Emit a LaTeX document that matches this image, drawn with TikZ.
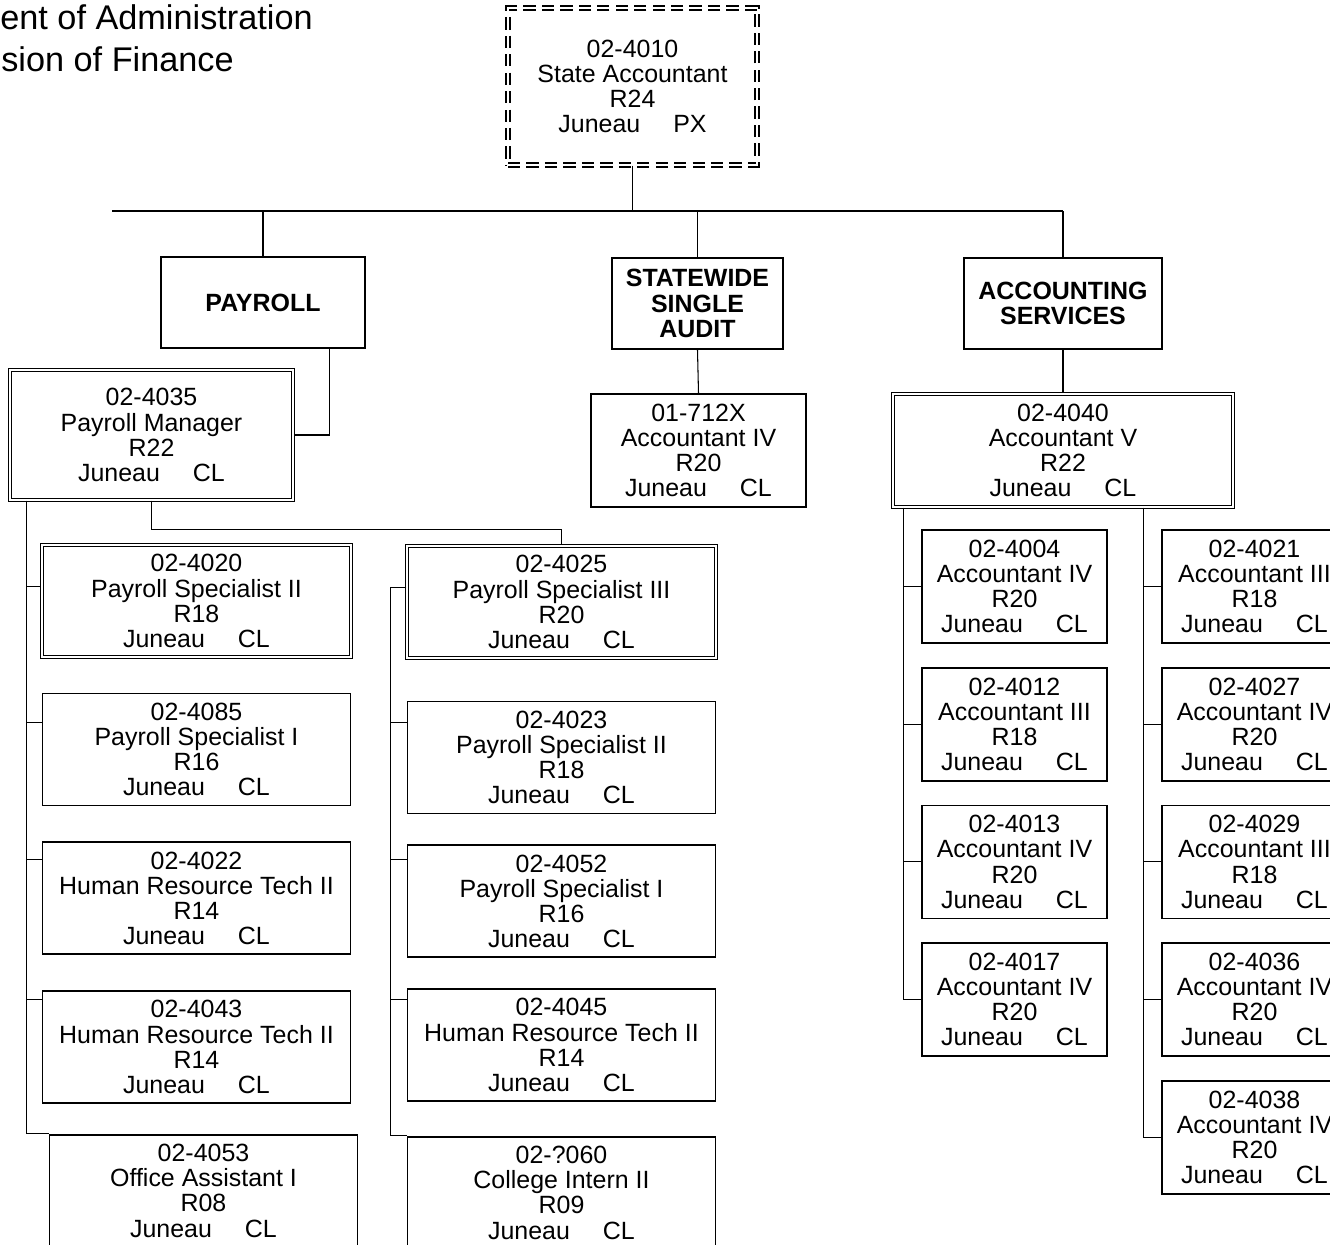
\documentclass[tikz,border=0pt]{standalone}
\usepackage{fontspec}
\setmainfont{Liberation Sans}
\usetikzlibrary{positioning, calc}

\newcommand{\posfont}{\fontsize{14.2}{14.3}\selectfont}
\newcommand{\site}[1]{Juneau\hspace{0.66cm}#1}

\tikzset{
  post/.style={draw, line width=1pt, align=center, inner sep=0pt, font=\posfont,
    minimum width=6.16cm, minimum height=2.24cm},
  lead/.style={post, double, line width=0.8pt, double distance=1.2pt},
  chiefbox/.style={post, double, line width=0.8pt, double distance=1.6pt,
    dash pattern=on 7pt off 3.5pt, minimum width=4.98cm, minimum height=3.14cm},
  acct/.style={post, minimum width=3.7cm, minimum height=2.26cm},
  unit/.style={draw, line width=1pt, align=center, inner sep=0pt,
    font=\bfseries\posfont, minimum height=1.82cm},
  link/.style={line width=0.6pt},
}

\begin{document}
\begin{tikzpicture}[x=0.02cm, y=-0.02cm]
        \useasboundingbox (0,0) rectangle (1330,1245);
        \clip (0,0) rectangle (1330,1245);
        % titulo (cortado a la izquierda)
        \node[anchor=base west, inner sep=0pt, font=\fontsize{19.5}{24}\selectfont] (dept) at (0,29)
              {ent of Administration};
        \node[anchor=base west, inner sep=0pt, font=\fontsize{19.5}{24}\selectfont] (div) at (1,71)
              {sion of Finance};
        % jefe arriba
        \node[chiefbox] (chief) at (632.5,86.5) {02-4010\\State Accountant\\R24\\\site{PX}};
        \coordinate (busL) at (112,211);
        % secciones
        \node[unit, minimum width=4.08cm] (payroll) at (263,302.5) {PAYROLL};
        \node[unit, minimum width=3.42cm] (audit) at (697.5,303.5) {STATEWIDE\\SINGLE\\AUDIT};
        \node[unit, minimum width=3.96cm] (acctsvc) at (1063,303.5) {ACCOUNTING\\SERVICES};
        % jefes de seccion
        \node[lead, minimum width=5.66cm, minimum height=2.6cm] (mgr) at (151.5,435)
              {02-4035\\Payroll Manager\\R22\\\site{CL}};
        \node[post, minimum width=4.3cm, minimum height=2.26cm] (a712) at (698.5,450.5)
              {01-712X\\Accountant IV\\R20\\\site{CL}};
        \node[lead, minimum width=6.8cm, minimum height=2.26cm] (a4040) at (1063,450.5)
              {02-4040\\Accountant V\\R22\\\site{CL}};
        % payroll, columna izquierda
        \node[lead, minimum width=6.18cm] (p4020) at (196.5,601)
              {02-4020\\Payroll Specialist II\\R18\\\site{CL}};
        \node[post, below=0.7cm of p4020] (p4085) {02-4085\\Payroll Specialist I\\R16\\\site{CL}};
        \node[post, below=0.7cm of p4085] (p4022) {02-4022\\Human Resource Tech II\\R14\\\site{CL}};
        \node[post, below=0.7cm of p4022] (p4043) {02-4043\\Human Resource Tech II\\R14\\\site{CL}};
        \node[post, below=0.6cm of p4043, xshift=0.14cm] (p4053)
              {02-4053\\Office Assistant I\\R08\\\site{CL}};
        % payroll, columna del medio
        \node[lead, minimum width=6.18cm] (p4025) at (561.5,602)
              {02-4025\\Payroll Specialist III\\R20\\\site{CL}};
        \node[post, below=0.84cm of p4025] (p4023) {02-4023\\Payroll Specialist II\\R18\\\site{CL}};
        \node[post, below=0.6cm of p4023] (p4052) {02-4052\\Payroll Specialist I\\R16\\\site{CL}};
        \node[post, below=0.6cm of p4052] (p4045) {02-4045\\Human Resource Tech II\\R14\\\site{CL}};
        \node[post, below=0.68cm of p4045] (p4060) {02-?060\\College Intern II\\R09\\\site{CL}};
        % contabilidad, dos columnas
        \node[acct] (a4004) at (1014.5,586.5) {02-4004\\Accountant IV\\R20\\\site{CL}};
        \node[acct, below=0.46cm of a4004] (a4012) {02-4012\\Accountant III\\R18\\\site{CL}};
        \node[acct, below=0.46cm of a4012] (a4013) {02-4013\\Accountant IV\\R20\\\site{CL}};
        \node[acct, below=0.46cm of a4013] (a4017) {02-4017\\Accountant IV\\R20\\\site{CL}};
        \node[acct] (a4021) at (1254.5,586.5) {02-4021\\Accountant III\\R18\\\site{CL}};
        \node[acct, below=0.46cm of a4021] (a4027) {02-4027\\Accountant IV\\R20\\\site{CL}};
        \node[acct, below=0.46cm of a4027] (a4029) {02-4029\\Accountant III\\R18\\\site{CL}};
        \node[acct, below=0.46cm of a4029] (a4036) {02-4036\\Accountant IV\\R20\\\site{CL}};
        \node[acct, below=0.46cm of a4036] (a4038) {02-4038\\Accountant IV\\R20\\\site{CL}};
        % lineas de arriba
        \draw[link] (chief.south) -- (chief.south |- busL);
        \draw[link] (busL) -- (busL -| acctsvc.north);
        \foreach \u in {payroll, audit, acctsvc}
          \draw[link] (\u.north |- busL) -- (\u.north);
        \draw[link] ([xshift=-0.72cm]payroll.south east) |- (mgr.east);
        \draw[link] (audit.south) -- (a712.north);
        \draw[link] (acctsvc.south) -- (a4040.north);
        % arbol de payroll
        \draw[link] (mgr.south) -- ++(0,29) -| (p4025.north);
        \coordinate (ltrunk) at ([xshift=0.34cm]mgr.south west);
        \draw[link] (ltrunk) |- (p4053.north west);
        \foreach \b/\f in {p4020/.375, p4085/.26, p4022/.16, p4043/.08} {
          \coordinate (\b-s) at ($(\b.north west)!\f!(\b.south west)$);
          \draw[link] (ltrunk |- \b-s) -- (\b-s);
        }
        \coordinate (p4025-s) at ($(p4025.north west)!.37!(p4025.south west)$);
        \draw[link] (p4025-s) -- ++(-16,0) coordinate (mtrunk) |- (p4060.north west);
        \foreach \b/\f in {p4023/.19, p4052/.13, p4045/.1} {
          \coordinate (\b-s) at ($(\b.north west)!\f!(\b.south west)$);
          \draw[link] (mtrunk |- \b-s) -- (\b-s);
        }
        % arbol de contabilidad
        \coordinate (at1) at ([xshift=0.22cm]a4040.south west);
        \coordinate (at2) at ([xshift=5.02cm]a4040.south west);
        \draw[link] (at1) |- (a4017.west);
        \foreach \b in {a4004, a4012, a4013}
          \draw[link] (at1 |- \b.west) -- (\b.west);
        \draw[link] (at2) |- (a4038.west);
        \foreach \b in {a4021, a4027, a4029, a4036}
          \draw[link] (at2 |- \b.west) -- (\b.west);
      \end{tikzpicture}
\end{document}
